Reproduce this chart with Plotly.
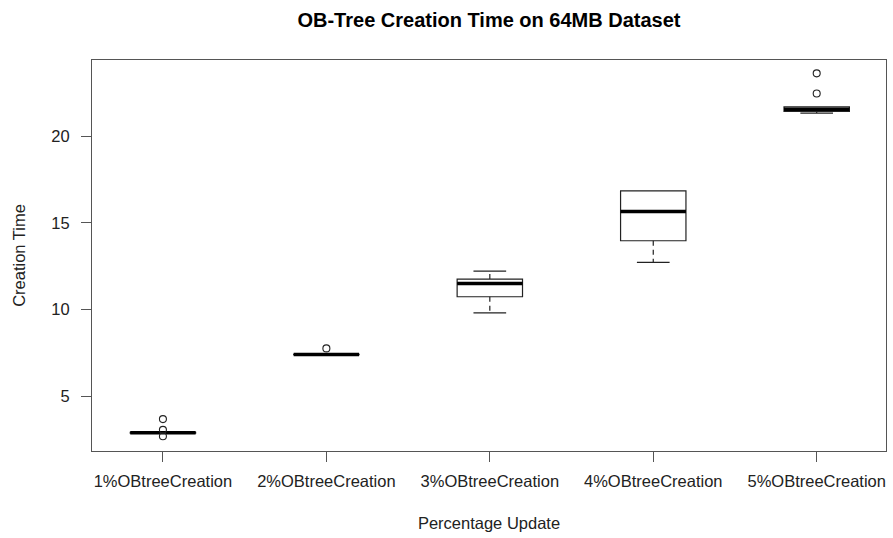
import plotly.graph_objects as go

categories = ["1%OBtreeCreation", "2%OBtreeCreation", "3%OBtreeCreation",
              "4%OBtreeCreation", "5%OBtreeCreation"]
lower_whisker = [2.86, 7.39, 9.80, 12.71, 21.33]
q1 = [2.86, 7.39, 10.73, 13.96, 21.42]
median = [2.88, 7.40, 11.50, 15.65, 21.55]
q3 = [2.90, 7.41, 11.75, 16.84, 21.68]
upper_whisker = [2.90, 7.41, 12.21, 16.84, 21.68]
outliers = [[3.67, 3.05, 2.68], [7.75], [], [], [23.62, 22.46]]

positions = list(range(1, len(categories) + 1))
BOX_W = 0.4
FONT = "Liberation Sans, Arial, sans-serif"
LINE = "#222222"

fig = go.Figure()

for i, p in enumerate(positions):
    fig.add_trace(go.Box(
        x=[p], q1=[q1[i]], median=[median[i]], q3=[q3[i]],
        lowerfence=[q1[i]], upperfence=[q3[i]],
        width=BOX_W, fillcolor="rgba(255,255,255,0)",
        line=dict(color=LINE, width=1.2), boxpoints=False,
        whiskerwidth=0, showlegend=False, hoverinfo="skip"))
    # thick median
    fig.add_trace(go.Scatter(
        x=[p - BOX_W / 2, p + BOX_W / 2], y=[median[i], median[i]],
        mode="lines", line=dict(color="black", width=3.5),
        showlegend=False, hoverinfo="skip"))
    # whiskers (dashed) and caps
    for a, b in ((q3[i], upper_whisker[i]), (q1[i], lower_whisker[i])):
        if abs(a - b) > 1e-9:
            fig.add_trace(go.Scatter(
                x=[p, p], y=[a, b], mode="lines",
                line=dict(color=LINE, width=1.2, dash="5px,4px"),
                showlegend=False, hoverinfo="skip"))
            fig.add_trace(go.Scatter(
                x=[p - BOX_W / 4, p + BOX_W / 4], y=[b, b], mode="lines",
                line=dict(color=LINE, width=1.2),
                showlegend=False, hoverinfo="skip"))
    if outliers[i]:
        fig.add_trace(go.Scatter(
            x=[p] * len(outliers[i]), y=outliers[i], mode="markers",
            marker=dict(symbol="circle-open", size=7, color=LINE,
                        line=dict(width=1.1)),
            showlegend=False, hoverinfo="skip"))

axis_common = dict(showline=True, mirror=True, linecolor="#555555", linewidth=1.2,
                   ticks="outside", ticklen=10, tickcolor="#555555", tickwidth=1.2,
                   showgrid=False, zeroline=False,
                   tickfont=dict(family=FONT, size=16.5, color="#222222"))

fig.update_layout(
    width=893, height=538,
    margin=dict(l=92, r=7, t=60, b=87),
    plot_bgcolor="white", paper_bgcolor="white",
    title=dict(text="<b>OB-Tree Creation Time on 64MB Dataset</b>",
               x=0.5, xref="paper", xanchor="center",
               y=0.963, yref="container", yanchor="middle",
               font=dict(family=FONT, size=20, color="black")),
    xaxis=dict(range=[0.566, 5.424], tickvals=positions, ticktext=categories,
               ticklabelstandoff=5,
               title=dict(text="Percentage Update", standoff=28,
                          font=dict(family=FONT, size=16.5, color="#222222")),
               **axis_common),
    yaxis=dict(range=[1.83, 24.39], tickvals=[5, 10, 15, 20],
               ticklabelstandoff=8,
               title=dict(text="Creation Time", standoff=21,
                          font=dict(family=FONT, size=16.5, color="#222222")),
               **axis_common),
)

fig.write_html("out.html")
